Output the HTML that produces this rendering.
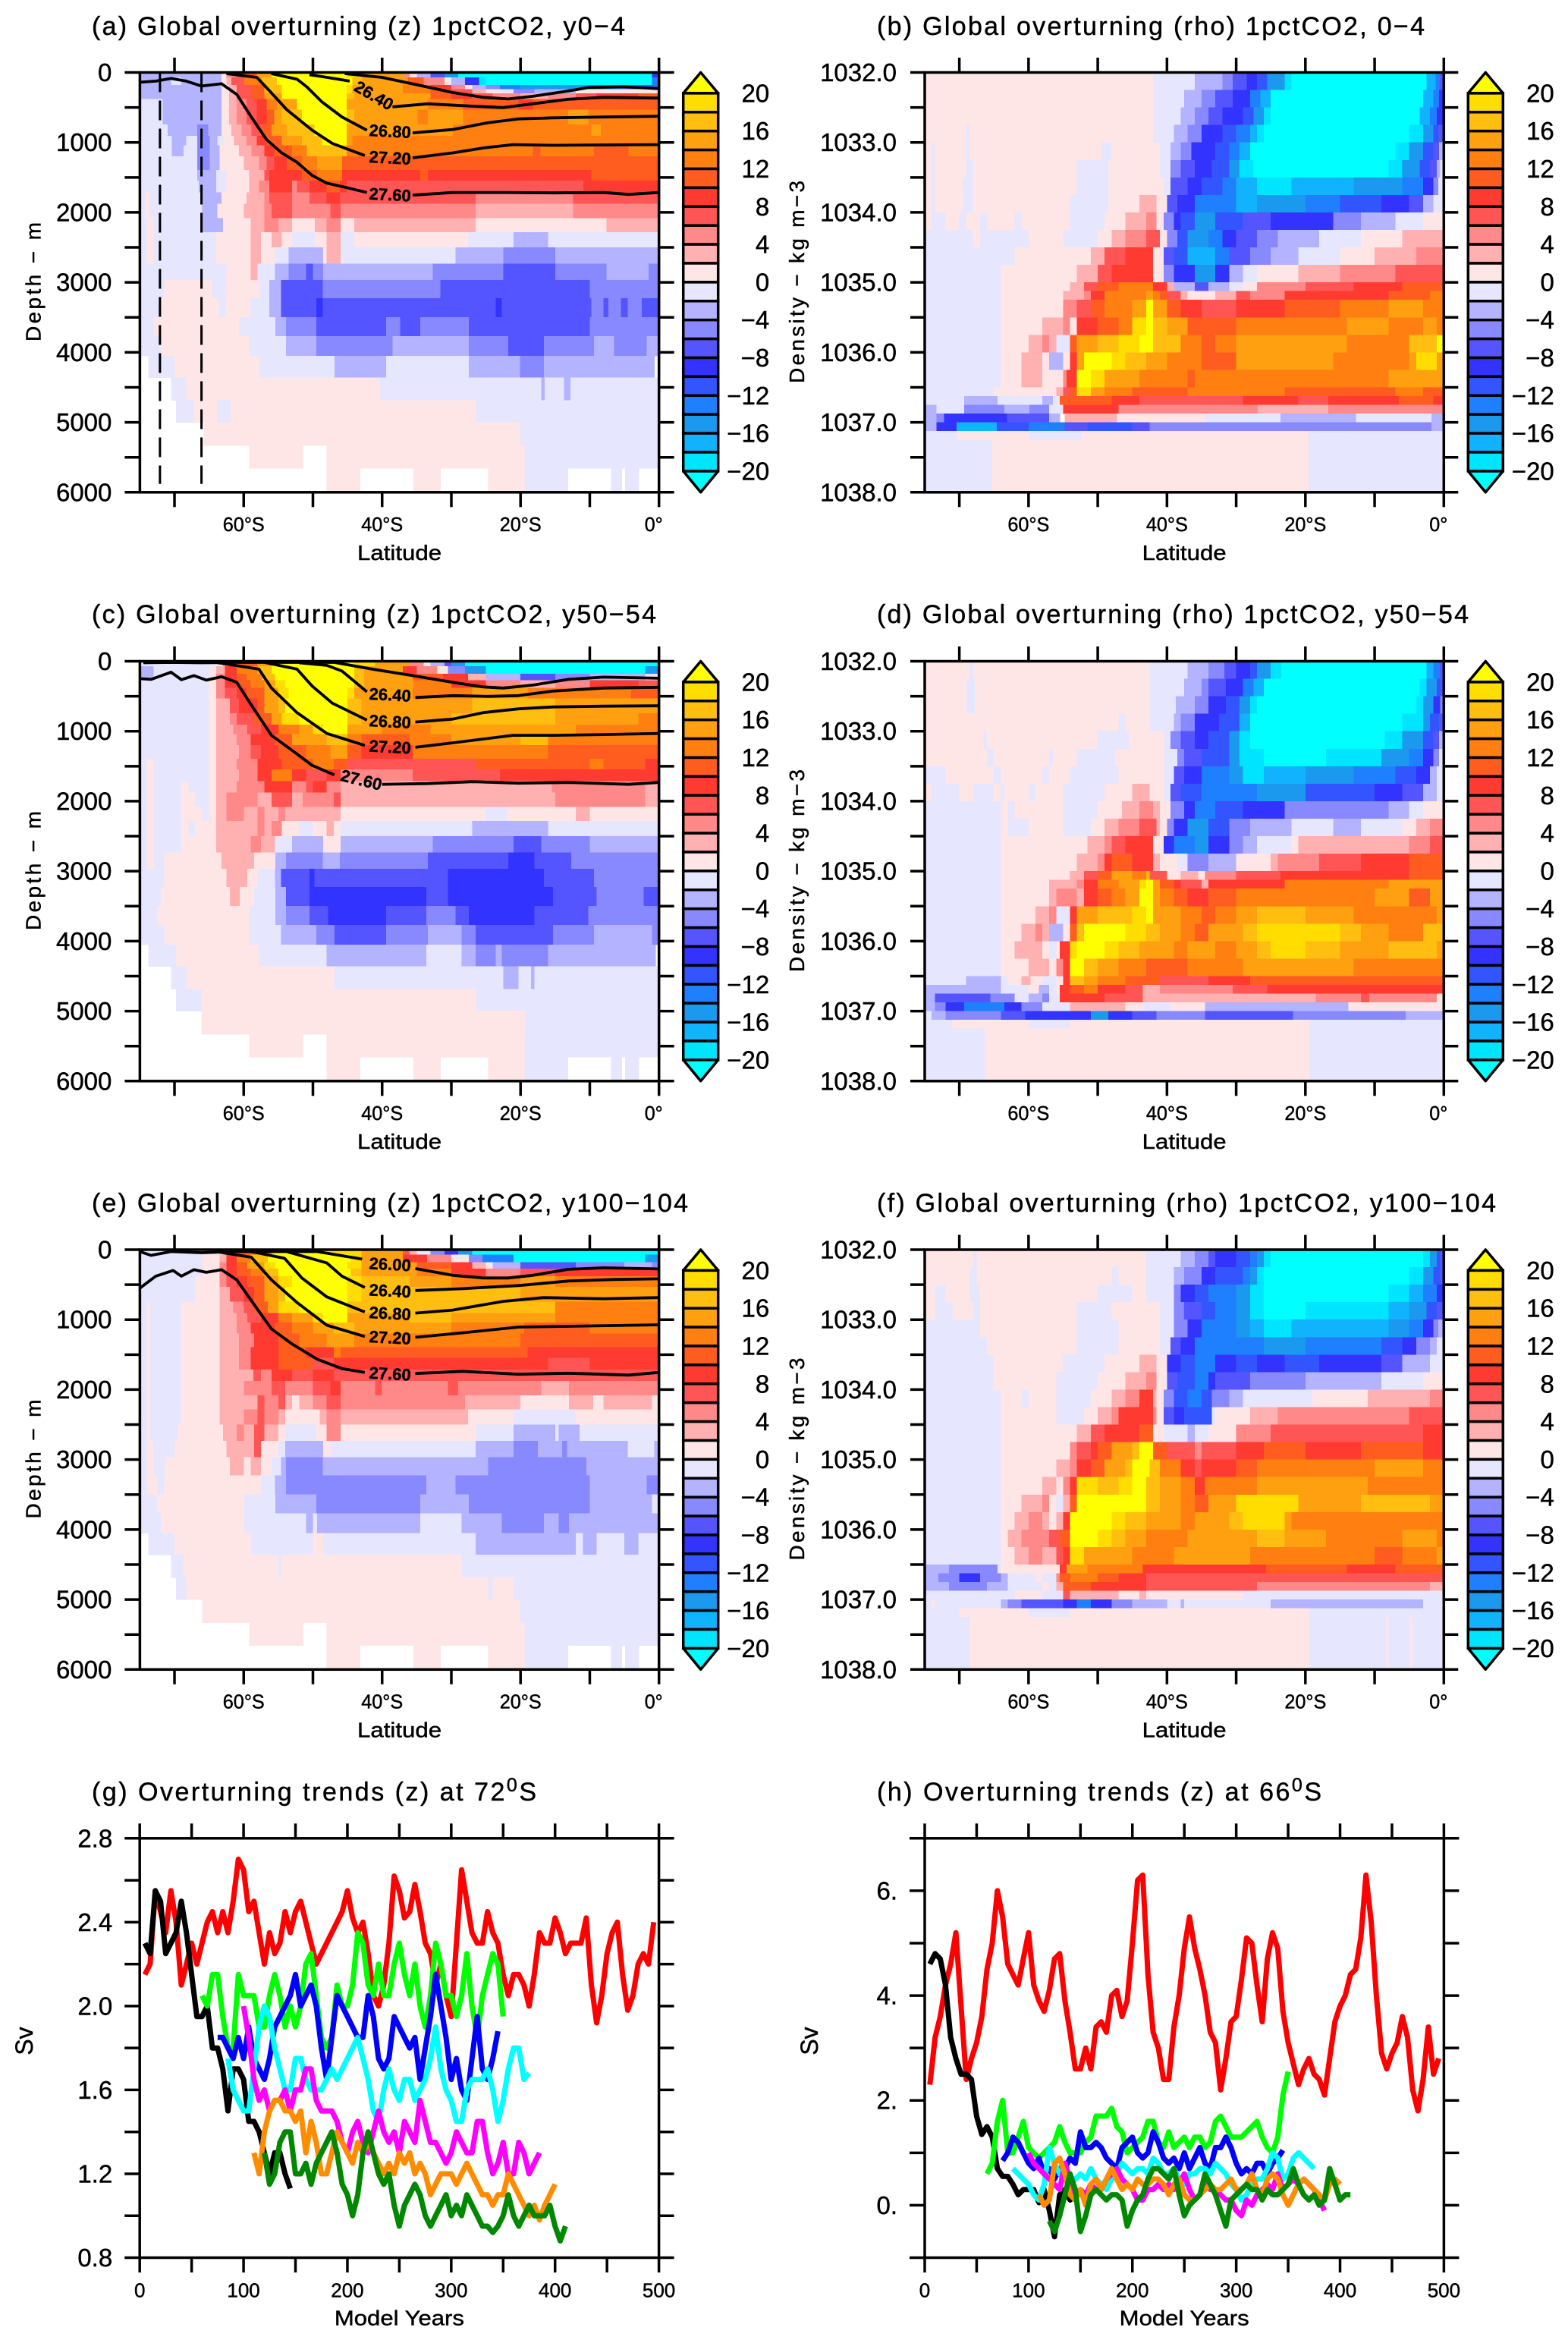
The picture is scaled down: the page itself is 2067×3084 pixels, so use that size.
<!DOCTYPE html>
<html lang="en">
<head>
<meta charset="utf-8">
<title>Overturning in 1pctCO2</title>
<style>
html,body{margin:0;padding:0;background:#fff}
svg{display:block}
text{font-family:"Liberation Sans",sans-serif;fill:#000;stroke:#000;stroke-width:.45px}
</style>
</head>
<body>
<svg id="figure" width="2067" height="3084" viewBox="0 0 2067 3084" xmlns="http://www.w3.org/2000/svg">
<rect width="2067" height="3084" fill="#fff"/>
<text x="121" y="46" font-size="34" textLength="703">(a) Global overturning (z) 1pctCO2, y0−4</text>
<text x="1156" y="46" font-size="34" textLength="722">(b) Global overturning (rho) 1pctCO2, 0−4</text>
<text x="121" y="821" font-size="34" textLength="744">(c) Global overturning (z) 1pctCO2, y50−54</text>
<text x="1156" y="821" font-size="34" textLength="780">(d) Global overturning (rho) 1pctCO2, y50−54</text>
<text x="121" y="1597" font-size="34" textLength="786">(e) Global overturning (z) 1pctCO2, y100−104</text>
<text x="1156" y="1597" font-size="34" textLength="816">(f) Global overturning (rho) 1pctCO2, y100−104</text>
<text x="121" y="2373" font-size="34" textLength="586">(g) Overturning trends (z) at 72<tspan dy="-12" font-size="25">0</tspan><tspan dy="12">S</tspan></text>
<text x="1156" y="2373" font-size="34" textLength="586">(h) Overturning trends (z) at 66<tspan dy="-12" font-size="25">0</tspan><tspan dy="12">S</tspan></text>
<defs>
<clipPath id="clip-a"><rect x="184.4" y="95.5" width="684.3" height="553.3"/></clipPath>
<clipPath id="clip-c"><rect x="184.4" y="871.5" width="684.3" height="553.3"/></clipPath>
<clipPath id="clip-e"><rect x="184.4" y="1647" width="684.3" height="553.3"/></clipPath>
</defs>
</svg>
<script>
/* ---------- colour scale ---------- */
const cbarLevels = [-20,-18,-16,-14,-12,-10,-8,-6,-4,-2,0,2,4,6,8,10,12,14,16,18,20];
const cbarColors = ['#00ffff','#00e5ff','#11b3ff','#1a99ee','#1f80ff','#3355ff','#3333ff','#5555ff','#8888ff','#b3b3ff','#e6e6ff','#ffe6e6','#ffb0b0','#ff8888','#ff5555','#ff3a30','#ff5c20','#ff7f10','#ffa010','#ffbe10','#ffdd00','#ffff00'];
const cbarLabels = [20,16,12,8,4,0,-4,-8,-12,-16,-20];
const latTicks = [-70,-60,-50,-40,-30,-20,-10,0];
const latLabels = [[-60,'60°S'],[-40,'40°S'],[-20,'20°S'],[0,'0°']];
const depthTicks = [0,500,1000,1500,2000,2500,3000,3500,4000,4500,5000,5500,6000];
const depthLabels = [0,1000,2000,3000,4000,5000,6000];
const rhoTicks = [1032,1032.5,1033,1033.5,1034,1034.5,1035,1035.5,1036,1036.5,1037,1037.5,1038];
const rhoLabels = [1032,1033,1034,1035,1036,1037,1038];

/* ---------- deep rows shared by z panels: [top, bottom, [lat, Sv, lat, Sv...]]  Sv 0 = no data ---------- */
const zBottom1 = [5331,5655,[-75,0,-59.2,1,-51.4,0,-48,1,-19.4,-1]];
const zBottom2 = [5655,6000,[-75,0,-48,1,-43.2,0,-35.5,1,-31.6,0,-24.7,1,-19.4,-1,-13.2,0,-6.9,-1,-5.4,0,-4.9,-1,-2.9,0]];

/* ---------- panel (a) ---------- */
const rowsA = [
[0,70,[-75,-3,-63.2,1,-62.5,5,-61,11,-58.1,15,-56,21,-45.1,19,-42.9,15,-37,5,-36,1,-35,-3,-33,-7,-31,-15,-29,-21,-1,-9]],
[70,180,[-75,-3,-70.5,-1,-69,-3,-63.2,1,-62.5,3,-61.8,7,-60,13,-57.4,17,-55.2,21,-44.3,17,-42.9,15,-36.3,11,-34,5,-31,1,-30,-3,-28,-9,-26,-19,-25,-21,-1,-13]],
[180,240,[-75,-3,-63.2,1,-62.1,3,-61,7,-59,11,-57,17,-54.5,21,-45.1,19,-44.3,15,-37,13,-33,9,-30,5,-28,1,-27,-3,-25,-5,-23,-13,-20,-15,-10,-13,-5,-7]],
[240,300,[-75,-3,-63.2,1,-62.1,3,-61,7,-59,11,-57,17,-54.5,21,-45.1,19,-44.3,15,-37,13,-33,11,-30,7,-27,3,-25,1,-23,-1,-21,-5,-18,-3,-12,1]],
[300,378,[-75,-3,-63.2,1,-62.1,3,-61,7,-59,11,-57,15,-54.5,21,-45.1,17,-44,15,-37,15,-33,11,-30,9,-27,7,-24,5,-20,3,-16,5,-12,7,-9,9,-3,11]],
[378,530,[-75,-1,-71.7,-3,-63.2,1,-62.1,3,-61,5,-59.6,7,-58.1,9,-56.7,13,-55.2,15,-52.3,21,-45.1,15,-36.3,15,-33.4,13,-28.3,11,-20.3,9,-18.2,11]],
[530,745,[-75,-1,-71.7,-3,-65,-3,-63.2,1,-62.1,3,-61,5,-59.6,7,-58.1,9,-56.7,11,-55.6,15,-54.5,17,-51.6,21,-45.1,17,-44,15,-34.9,13,-33.4,15,-28.3,13,-20.3,13,-13.1,15,-10.2,13]],
[745,906,[-75,-1,-71,-3,-66.7,-5,-65.1,-3,-63.2,1,-61.8,3,-60.3,5,-58.9,7,-57.4,11,-56,15,-53.8,17,-49.8,21,-45.1,15,-33.4,15,-29.8,13,-9.8,15,-8.4,13]],
[906,1040,[-75,-1,-70.4,-3,-68.3,-1,-66.7,-5,-64.9,-3,-63.8,-1,-62.8,1,-61.4,3,-59.6,5,-58.1,9,-56.7,11,-54.5,15,-51.6,17,-48.7,21,-45.1,15,-44.3,13]],
[1040,1200,[-75,-1,-70.4,-3,-68.7,-1,-66.7,-5,-64.9,-3,-63.5,1,-60.7,3,-58.9,5,-57,9,-55.6,11,-53,13,-50.9,17,-45.1,13,-18.2,11,-17.1,13,-9.4,11,-4.4,13]],
[1200,1392,[-75,-1,-66.7,-5,-64.9,-3,-63.5,1,-60,3,-57.8,5,-56.7,7,-55.6,9,-53.8,11,-51.6,13,-49.4,15,-45.8,11,-45.1,11,-33,11]],
[1392,1543,[-75,-1,-66.7,-3,-64,-1,-62.5,1,-59.2,3,-57,7,-56.3,9,-51.6,11,-49.4,13,-45.8,9,-34.5,11,-33.4,9,-9.8,11]],
[1543,1716,[-75,-1,-66.5,-3,-64,-1,-62.5,1,-59.2,3,-57.8,5,-56.3,9,-53,5,-52.3,7,-50.5,9,-48,11,-46.1,9,-45.1,7,-26.5,7,-10.9,9]],
[1716,1878,[-75,-1,-74.3,1,-73.6,-1,-66,-3,-63.2,1,-59.6,3,-57,5,-56.3,7,-53,5,-50.5,7,-48,9,-46.1,7,-26.5,5,-12.4,7]],
[1878,2083,[-75,-1,-74.3,1,-73.6,-1,-66,-3,-63.8,1,-60,3,-57,5,-56,7,-53,5,-47.5,7,-46,5,-26.5,3,-12.4,5]],
[2083,2283,[-75,-1,-74,1,-73,-1,-66,-3,-63,1,-59,3,-57,5,-55,3,-53,1,-49.7,3,-48,5,-46,1,-44,3,-26.5,1,-7.6,3]],
[2283,2498,[-75,-1,-74,1,-73,-1,-64,1,-59,3,-57.5,1,-56,3,-54.5,1,-53,-1,-49.7,1,-48,3,-46,-1,-44,1,-27.6,-1,-21,-3,-16,-1]],
[2498,2730,[-75,-1,-74,1,-73,-1,-64,1,-59,3,-57.5,1,-55.5,-1,-53.5,-3,-48.5,1,-48,3,-46,-1,-29.4,-3,-22.5,-5,-15,-3]],
[2730,2968,[-75,-1,-73,-1,-62.5,1,-59,3,-58,-1,-55.5,-3,-53.5,-5,-51,-7,-50,-5,-48.5,-3,-32.7,-5,-22.5,-7,-15,-5,-7.6,-3,-1.5,-5]],
[2968,3227,[-75,-1,-71.5,1,-64.6,-1,-62.5,1,-57.8,-1,-56.3,-3,-54.6,-7,-48.6,-5,-31.6,-7,-10,-5]],
[3227,3497,[-75,-1,-72,1,-63.6,-1,-62.6,1,-59,-1,-56.3,-3,-54.6,-7,-49.5,-9,-48.6,-7,-23.6,-9,-22.7,-7,-9.8,-5,-8,-7,-7.3,-5,-5.5,-7,-4.5,-5,-2.5,-7]],
[3497,3766,[-75,-1,-73,1,-60.7,-1,-55.4,-3,-53.9,-5,-49.5,-7,-39.4,-5,-37.4,-7,-34.5,-5,-27.5,-7,-10,-5]],
[3766,4052,[-75,-1,-72,1,-59.2,-1,-53.9,-3,-49.5,-5,-38.5,-3,-27.5,-5,-21.8,-7,-16.6,-5,-9.4,-3,-6.5,-5,-1.8,-3]],
[4052,4360,[-75,0,-73.8,-1,-70,1,-57.8,-1,-46.9,-3,-39.4,-1,-27.5,-3,-20.1,-5,-16.6,-3,-0.7,0]],
[4360,4684,[-75,0,-70.5,-1,-68.3,1,-40.3,-1,-17,-3,-16.5,-1,-13.7,-3,-12.8,-1]],
[4684,4997,[-75,0,-69.8,-1,-67.2,1,-63.8,-1,-61.9,1,-26.5,-1]],
[4997,5331,[-75,0,-65.8,1,-20.1,-1]],
zBottom1, zBottom2
];
const contoursA = [
[-45.4,16,-40,70,-34.9,178,-29.8,286,-25.4,356,-21.8,378,-18.2,340,-13.8,275,-10.2,216,-5.1,205,0,232],
[-50.5,32,-48.7,59,-44.7,124],
[-38.5,491,-33.4,448,-28.3,475,-22.5,502,-18.2,448,-13.1,383,-8,356,0,367],
[-56,16,-52.3,97,-50.9,205,-48.7,421,-45.8,637,-42.2,826],
[-35.6,863,-29.8,815,-24.7,718,-20.3,664,-15.3,648,-8,637,0,626],
[-62.5,16,-58.1,70,-56.3,259,-53.8,529,-50.1,826,-47.2,1014,-42.5,1187],
[-35.6,1220,-29.8,1149,-25.4,1079,-21.1,1031,-15.3,1041,-8,1036,0,1031],
[-75,140,-72.7,124,-70.5,86,-68.3,124,-66.1,194,-63.2,162,-61,313,-58.9,637,-56.7,961,-54.5,1149,-52.3,1284,-50.1,1473,-48,1581,-45.1,1646,-42.2,1716],
[-35.6,1754,-29.8,1716,-22.5,1716,-15.3,1721,-8,1716,-4.4,1743,0,1716]
];
const contourLabelsA = [['26.40',-41.6,313,30],['26.80',-38.9,836,3],['27.20',-38.9,1214,3],['27.60',-38.9,1743,3]];
const sectionLats = [-72.1,-66.1];

/* ---------- panel (c) ---------- */
const rowsC = [
[0,70,[-75,-1,-64,1,-63,5,-61,11,-58,15,-56,21,-44,19,-41,15,-36,5,-34,1,-33,-3,-31,-7,-30,-15,-28,-21]],
[70,180,[-75,-3,-73,-1,-65,1,-64,3,-62.7,9,-61,13,-58,17,-56,21,-44,17,-42.6,15,-37,9,-35,5,-32,1,-30.5,-5,-28,-15,-25,-21,-2,-15]],
[180,270,[-75,-3,-73,-1,-65,1,-64,5,-62.7,9,-61,11,-59.6,13,-57.4,17,-55.5,21,-44,17,-42.6,15,-35.6,11,-31.2,9,-27.6,3,-25,-3,-20,-7,-15,-5,-10,-3,-2,-1]],
[270,380,[-75,-1,-65,1,-64,5,-62.7,9,-61,11,-59,13,-57,15,-55.5,19,-54,21,-44,17,-42.6,15,-35.5,13,-30,9,-25,5,-20,3,-15,5,-10,9,-3,7]],
[380,530,[-75,-1,-65,1,-64,5,-62.7,7,-61,9,-59.6,11,-57,15,-55,19,-53.5,21,-45,19,-44,15,-35.6,13,-27,15,-19,13,-4,11]],
[530,745,[-75,-1,-65,1,-64,3,-62,7,-60.7,9,-58,11,-57,15,-55,17,-54,21,-45,17,-43,15,-27,17,-15,15]],
[745,906,[-75,-1,-65,1,-64,3,-62,5,-61,7,-58.5,11,-56,15,-54.5,19,-52,21,-45,17,-43,15,-30,17,-15,15,-3,13]],
[906,1040,[-75,-1,-65,1,-64,3,-61.5,5,-59.5,7,-57.5,9,-55,13,-52,15,-50,19,-48.5,21,-45,15,-40,13,-33,15,-12,13]],
[1040,1200,[-75,-1,-65,1,-64,3,-61,5,-59,9,-55.5,11,-53,15,-48,17,-45,13,-43,11,-36,13,-30,15,-20,17,-16,13]],
[1200,1392,[-75,-1,-65,1,-64,3,-60.7,5,-59,7,-57.5,9,-55,11,-51,13,-47.5,15,-45,11,-43,9,-35.6,13,-16,11]],
[1392,1543,[-75,-1,-74,1,-73,-1,-65,1,-64,3,-61,5,-58,9,-54.5,11,-50,13,-47,11,-45,7,-26.5,11,-10,13,-8,11,-2,9]],
[1543,1716,[-75,-1,-74,1,-73,-1,-65,1,-64,3,-60.7,5,-58,9,-56,13,-53,9,-51,7,-48,9,-46,5,-35.6,7,-23,9]],
[1716,1878,[-75,-1,-74,1,-73,-1,-69,1,-68,-1,-65,1,-64,3,-61,5,-57,9,-53,5,-51,7,-50,9,-48,5,-46,3,-15.5,5,-2,3]],
[1878,2083,[-75,-1,-74,1,-73,-1,-69,1,-67,-1,-65,1,-64,3,-62.5,5,-58,3,-56,7,-53,3,-51.5,5,-47,7,-46,3,-15,5,-2,3]],
[2083,2283,[-75,-1,-74,1,-73,-1,-69,1,-66,-1,-65,1,-64,3,-62.5,5,-60,3,-58,5,-57,3,-55,5,-54,3,-46,1,-25,-1,-22,1,-12,3,-10,1]],
[2283,2498,[-75,-1,-74,1,-73,-1,-69,1,-68,-1,-67,1,-64,3,-58,5,-57,3,-56,5,-54.5,1,-52,-1,-50,1,-48,3,-47,1,-46,-1,-27,-3,-16,-1]],
[2498,2730,[-75,-1,-74,1,-73,-1,-69,1,-64,3,-59,5,-57.5,3,-55.5,-1,-53,-3,-48.5,1,-46,-3,-32.7,-5,-21,-7,-17,-5,-10,-3]],
[2730,2968,[-75,-1,-74,1,-73,-1,-71.5,1,-63.2,3,-58.5,1,-55.4,-3,-53.9,-5,-48.6,-3,-46.1,-5,-33.4,-7,-21.8,-9,-18,-7,-12.7,-5]],
[2968,3227,[-75,-1,-71.5,1,-62.5,3,-59.5,1,-58,-1,-55.5,-3,-54.6,-7,-50.5,-9,-49.8,-7,-30.5,-9,-16.6,-7,-9.4,-5]],
[3227,3497,[-75,-1,-72,1,-62,3,-60.6,1,-58.5,-1,-55.4,-3,-53.9,-7,-50.5,-9,-33.6,-7,-30.5,-9,-15.3,-7,-9,-5,-2.2,-7]],
[3497,3766,[-75,-1,-72.5,1,-59.2,-1,-55.4,-3,-53.9,-5,-50.5,-7,-47.8,-9,-39.4,-7,-33.6,-5,-29.4,-7,-27.5,-9,-18,-7,-10.2,-5]],
[3766,4052,[-75,-1,-71.5,1,-59.2,-1,-54.6,-3,-49.5,-5,-46.9,-7,-39.4,-5,-33.4,-3,-28.5,-5,-26.5,-7,-15.3,-5,-9.4,-3,-1,-5]],
[4052,4360,[-75,0,-73.8,-1,-69.8,1,-57.8,-1,-48,-3,-33.6,-1,-28.5,-3,-26.5,-5,-23.6,-3,-22.7,-5,-16,-3,-0.5,0]],
[4360,4684,[-75,0,-70.5,-1,-68.3,1,-46.9,-1,-22.5,-3,-20.3,-1,-18.5,-3,-18,-1]],
[4684,4997,[-75,0,-69.8,-1,-66.1,1,-26.5,-1]],
[4997,5331,[-75,0,-66.1,1,-19.3,-1]],
zBottom1, zBottom2
];
const contoursC = [
[-74.5,22,-70.5,16,-66.1,22,-61,16,-46.9,16,-41.4,113,-35.6,205,-29.8,302,-25.4,367,-22.5,383,-18.2,340,-13.1,259,-8,227,0,243],
[-52,22,-48,59,-45.8,140,-42.2,437],
[-35.2,518,-29.8,491,-24.7,502,-20.3,491,-15.3,426,-8,383,0,372],
[-57,16,-52.3,113,-50.1,356,-47.2,599,-42.2,842],
[-35.2,869,-29.8,826,-25.4,734,-20.3,680,-15.3,653,-8,642,0,637],
[-64,16,-57.8,113,-56,383,-52.3,734,-48,1031,-42.5,1203],
[-35.2,1230,-29.8,1166,-21.1,1058,-15.3,1058,-8,1047,0,1031],
[-75,248,-73.4,259,-70.5,156,-69,264,-67.2,205,-65.4,270,-63.2,221,-61,302,-58.9,626,-56,1058,-53,1274,-50.1,1489,-46.9,1624],
[-40,1759,-33.4,1748,-26.9,1721,-20.3,1743,-13.1,1732,-4.4,1759,0,1732]
];
const contourLabelsC = [['26.40',-38.9,475,3],['26.80',-38.9,858,3],['27.20',-38.9,1220,3],['27.60',-43.2,1689,14]];

/* ---------- panel (e) ---------- */
const rowsE = [
[0,70,[-75,-1,-64,1,-63,5,-61,11,-58,15,-56,21,-48,19,-43,15,-37,7,-36,3,-35,-1,-33,-5,-31,-9,-29,-15,-27,-21]],
[70,180,[-75,-1,-66,1,-63.5,3,-62.5,9,-61,13,-59,17,-56.5,21,-44.5,19,-43,15,-37,9,-33.5,5,-30,1,-27.5,-5,-25.5,-13,-21,-21,-2,-15]],
[180,270,[-75,-1,-66,1,-63.5,5,-62.5,9,-61,11,-59.5,15,-57,19,-55.5,21,-45,19,-43,15,-35,11,-30,9,-27,3,-25,1,-24,-3,-20,-7,-12,-5,-5,-3,-1,-5]],
[270,380,[-75,-1,-66,1,-63.5,5,-62.5,9,-61,11,-59,13,-57,17,-55,21,-44.5,17,-43,15,-35,13,-30,9,-25,5,-20,7,-15,9]],
[380,530,[-75,-1,-67,1,-63.5,5,-62.5,7,-61,9,-59.5,11,-57,15,-55,19,-53,21,-45,19,-43,17,-36,15,-30,13,-20,15,-15,13]],
[530,745,[-75,-1,-67,1,-63.5,3,-62,7,-60,9,-58.5,11,-57,15,-55,17,-54,21,-45,19,-43,17,-20,15]],
[745,906,[-75,-1,-74,1,-73.5,-1,-69,1,-63.5,3,-61.5,5,-60,7,-58.5,11,-56.5,15,-55,19,-52,21,-45,17,-15,13]],
[906,1040,[-75,-1,-74,1,-73.5,-1,-69,1,-63.5,3,-61,5,-59.5,7,-57.5,9,-55,13,-53,15,-50,19,-48.5,21,-45,15,-36,17,-30,15,-15,13]],
[1040,1200,[-75,-1,-74,1,-73.5,-1,-69,1,-63.5,3,-61,5,-59,9,-55.5,11,-53,13,-50,15,-47,17,-44,15,-30,13,-19.5,11,-10,13]],
[1200,1392,[-75,-1,-74,1,-73.5,-1,-69,1,-63.5,3,-60.7,5,-58.5,9,-55,11,-52,13,-48,15,-44,13,-20,11]],
[1392,1543,[-75,-1,-74,1,-73.5,-1,-69,1,-63.5,3,-60.7,5,-59,9,-55,11,-51,9,-47,13,-46,11,-19,9,-5,9]],
[1543,1716,[-75,-1,-74,1,-73.5,-1,-69,1,-63.5,3,-60.7,5,-59,9,-55,11,-50,7,-47,9,-16,7,-10,9]],
[1716,1878,[-75,-1,-74,1,-73.5,-1,-69,1,-63.5,3,-58.6,7,-57.5,5,-56,9,-53,7,-50,9,-47,7]],
[1878,2083,[-75,-1,-74,1,-73.5,-1,-69,1,-63.5,3,-60,5,-56,7,-54,5,-50,7,-47.5,9,-46,5,-41,7,-40,5,-30.5,7,-29,5,-17,3,-13,5]],
[2083,2283,[-75,-1,-74,1,-73.5,-1,-69,1,-63.5,3,-58,7,-57,5,-55,7,-54,3,-53,1,-52,3,-50,5,-48,7,-46,5,-28,3,-20,1,-13,3,-9.5,1,-8,3,-1,1]],
[2283,2498,[-75,-1,-74,1,-73.5,-1,-69,1,-63.5,3,-60,5,-58,7,-57,5,-55,3,-54,1,-49,3,-48,5,-46,3,-27.6,1,-21,-1,-12,1]],
[2498,2730,[-75,-1,-74,1,-73.5,-1,-69.5,1,-63,3,-61,5,-60,3,-58.5,7,-57,3,-55,1,-54,-1,-49.5,1,-48,5,-46,1,-26.5,-1,-21,-3,-15,-1,-14.5,-3,-11.5,-1]],
[2730,2968,[-75,-1,-74,1,-73,-1,-70,1,-62.5,3,-58.5,7,-57.5,1,-55,-1,-54,-3,-48.5,1,-47.5,-1,-26.5,-3,-21,-5,-17.5,-3,-14,-5,-13.3,-3,-4.5,-1,-0.7,-3]],
[2968,3227,[-75,-1,-74,1,-73,-1,-71.3,1,-62,3,-60,1,-59,3,-57.5,1,-56,-1,-54.6,-3,-53.9,-5,-48.6,-3,-24.7,-5,-10.5,-3]],
[3227,3497,[-75,-1,-74,1,-72.5,-1,-71.5,1,-57.5,-1,-55.5,-3,-53.9,-5,-33.6,-3,-29.4,-5,-10,-3,-1.8,-5]],
[3497,3766,[-75,-1,-72.5,1,-60,-1,-55.4,-3,-49.5,-5,-34.5,-3,-27.5,-5,-10,-3,-1,-1]],
[3766,4052,[-75,-1,-72,1,-60,-1,-51,-3,-50,-1,-49.4,-3,-34.5,-1,-28.5,-3,-22.7,-5,-16.6,-3,-14.5,-5,-13,-3]],
[4052,4360,[-75,0,-73.8,-1,-70,1,-59,-1,-50,1,-48.5,-1,-26.5,-3,-12,-1,-11,-3,-9,-1,-5,-3,-3,-1]],
[4360,4684,[-75,0,-70.5,-1,-68.7,1,-55,-1,-54.5,1,-28.5,-1]],
[4684,4997,[-75,0,-69.8,-1,-68.3,1,-24.7,-1,-24,1,-21,-1]],
[4997,5331,[-75,0,-66,1,-20.1,-1]],
zBottom1, zBottom2
];
const contoursE = [
[-75,27,-73.4,81,-70.5,27,-66.1,43,-61,27,-49.4,27,-42.9,135],
[-35.2,270,-29.8,367,-25.4,405,-21.8,405,-18.2,367,-13.1,281,-8,259,0,275],
[-53.8,27,-48,189,-45.8,378,-42.5,540],
[-35.2,583,-28.3,556,-20.3,513,-13.1,448,-6.5,426,0,416],
[-58.9,27,-54.1,124,-51.6,405,-48,675,-42.5,890],
[-35.2,907,-29.8,863,-22.5,739,-16.7,685,-8,702,0,685],
[-64,27,-58.9,108,-56,432,-52.3,755,-48,1079,-42.5,1241],
[-35.2,1252,-28.3,1187,-20.3,1106,-13.1,1095,0,1074],
[-75,550,-72.7,378,-70.2,297,-69,378,-67.2,286,-65.4,324,-63.2,286,-61,432,-58.9,728,-56,1133,-53,1349,-49.4,1565,-45.8,1700,-42.5,1754],
[-35.2,1770,-28.3,1738,-20.3,1781,-13.1,1765,-4.4,1792,0,1754]
];
const contourLabelsE = [['26.00',-38.9,205,3],['26.40',-38.9,583,3],['26.80',-38.9,907,3],['27.20',-38.9,1252,3],['27.60',-38.9,1770,3]];

/* ---------- panel (b) ---------- */
const rowsB = [
[1032,1032.25,[-75,1,-42,-1,-36,-3,-32,-5,-30.5,-7,-28.5,-9,-27,-11,-25.5,-15,-23,-19,-22,-21,-2.5,-17,-1.2,-13,-0.6,-7]],
[1032.25,1032.5,[-75,1,-42,-1,-37.5,-3,-35,-5,-33,-7,-30.5,-9,-28,-13,-26.5,-17,-25,-21,-3,-17,-1.5,-13,-0.7,-9]],
[1032.5,1032.75,[-75,1,-42,-1,-38,-3,-36,-5,-34,-7,-32,-9,-29,-11,-27.5,-15,-26,-19,-25,-21,-3.5,-17,-2,-13,-1,-9]],
[1032.75,1033,[-75,1,-69,-1,-68.5,1,-42,-1,-39,-3,-37,-5,-35,-9,-32,-11,-30,-13,-28,-17,-27,-19,-26,-21,-5,-19,-3,-15,-1.5,-11,-0.8,-7]],
[1033,1033.25,[-75,1,-74,-1,-73.5,1,-69,-1,-68.5,1,-49.5,-1,-48,1,-41,-1,-39.5,-3,-38,-5,-36.5,-9,-33,-11,-31,-13,-29.5,-17,-28,-21,-7,-19,-5,-15,-3,-11,-1.5,-7,-0.7,-3]],
[1033.25,1033.5,[-75,1,-74,-1,-73.5,1,-69,-1,-68,1,-53,-1,-48.5,1,-41,-1,-39.5,-5,-38,-7,-36,-9,-33.5,-11,-31,-15,-29.5,-19,-27.5,-21,-8,-19,-6,-15,-3.5,-11,-2,-7,-1,-3,-0.5,-1]],
[1033.5,1033.75,[-75,1,-74,-1,-73.5,1,-69.5,-1,-68,1,-53,-1,-48.5,1,-40.5,-1,-39.5,-7,-37,-9,-35,-11,-32,-13,-30,-17,-27,-19,-22,-17,-13,-15,-6,-13,-3,-9,-1.5,-5,-0.8,-1]],
[1033.75,1034,[-75,1,-74,-1,-73.5,1,-69.5,-1,-68,1,-54,-1,-48.5,1,-44,3,-41.5,1,-40,-7,-38.5,-9,-36,-13,-30,-17,-27,-15,-20,-13,-15,-11,-9,-9,-5,-7,-3,-3,-1.5,-1]],
[1034,1034.25,[-75,1,-74,-1,-72,1,-70,-1,-69,1,-67,-1,-66,1,-62,-1,-61,1,-54,-1,-49,1,-46,3,-43,5,-41.5,1,-40.5,-5,-39,-9,-38,-11,-36,-15,-33,-11,-29,-7,-25,-9,-16,-5,-12,-3,-7,-1,-3,1]],
[1034.25,1034.5,[-75,-1,-68,1,-67,-1,-60,1,-55,-1,-50,1,-48,3,-46,5,-43,7,-41,1,-40,-5,-38.5,-11,-37,-15,-34,-13,-32,-9,-30,-7,-27,-5,-24,-3,-18,-1,-12,1,-6,3]],
[1034.5,1034.75,[-75,-1,-62,1,-51,3,-49,7,-46,9,-42,1,-40.5,-7,-39,-11,-37,-17,-33,-13,-31,-7,-28,-5,-25,-3,-21,-1,-15,1,-10,3,-4,5]],
[1034.75,1035,[-75,-1,-64,1,-53,3,-50,7,-48,9,-42,1,-40.5,-5,-39,-9,-36,-15,-33,-9,-31,-3,-29,-1,-27,1,-21,3,-15,5,-7,7]],
[1035,1035.125,[-75,-1,-64,1,-54,3,-52,7,-50,11,-47,13,-42,9,-40,3,-39,-3,-36,-7,-34,-3,-31,-1,-29,1,-27,5,-20,7,-13,9,-6,11]],
[1035.125,1035.25,[-75,-1,-64,1,-55,3,-52,5,-51,9,-49,13,-43,15,-42,13,-41,11,-40,7,-38,3,-37,1,-33,3,-30,7,-28,5,-23,9,-8,11,-2,13]],
[1035.25,1035.5,[-75,-1,-64,1,-55,5,-53,7,-51,11,-49,13,-45,15,-43,21,-42,15,-40,11,-38,9,-35,7,-30,9,-23,11,-15,13,-8,15,-3,13]],
[1035.5,1035.75,[-75,-1,-64,1,-58,3,-55,5,-54,1,-53,9,-50,11,-47,13,-45,19,-43,21,-42,17,-40,15,-37,11,-30,13,-14,15,-8,13,-3,15,-1,13]],
[1035.75,1036,[-75,-1,-64,1,-60,3,-58,5,-57,3,-56,-1,-54,11,-53,15,-50,17,-47,19,-44,21,-42,17,-38,13,-35,11,-33,13,-30,15,-14,13,-5,17,-1,21]],
[1036,1036.25,[-75,-1,-64,1,-61,3,-58,1,-57,-3,-55,1,-54,9,-53,15,-52,21,-48,19,-46,17,-43,15,-40,13,-35,11,-30,15,-16,13,-5,15,-4,19,-1,15]],
[1036.25,1036.5,[-75,-1,-64,1,-61,3,-58,1,-55,5,-54.5,9,-53,21,-51,19,-49,15,-44,13,-37,11,-36,13,-8,15]],
[1036.5,1036.625,[-75,-1,-65,1,-56,3,-55,7,-54,11,-53,19,-51,15,-49,13,-45,11,-37,13,-23,11,-7,13,-3,11]],
[1036.625,1036.75,[-75,-1,-69.3,-3,-64.5,-1,-58,-3,-56.5,-1,-55.5,11,-48,9,-44,7,-29,9,-21,7,-16.7,9,-6.5,11,-1.5,9]],
[1036.75,1036.875,[-75,-3,-73.3,-1,-69.3,-5,-63.5,-3,-59.9,-5,-57,-1,-55,9,-47,5,-26.9,3,-16.7,5]],
[1036.875,1037,[-75,-3,-73.3,-5,-72.2,-9,-63.1,-7,-57,-3,-55.5,0,-54.8,3,-47.2,1,-34.5,-1,-23.6,-3,-12.7,-1,-1.8,-3]],
[1037,1037.125,[-75,-3,-73.3,-9,-70.4,-17,-64.6,-11,-60,-13,-54.8,-7,-51.5,-11,-45,-7,-42.5,-5,-1.8,-3]],
[1037.125,1037.25,[-75,-1,-70.4,1,-60,-1,-52.3,1,-19.6,-1]],
[1037.25,1038,[-75,-1,-65.3,1,-19.6,-1]]
];

/* ---------- panel (d) ---------- */
const rowsD = [
[1032,1032.25,[-75,1,-68.6,-1,-68,1,-42.5,-1,-37,-3,-34,-5,-31.7,-7,-30,-9,-28,-11,-27,-15,-25,-19,-23.5,-21,-2.5,-17,-1.5,-13,-0.6,-7]],
[1032.25,1032.5,[-75,1,-69,-1,-67.7,1,-42.5,-1,-37.5,-3,-35,-5,-34,-7,-31.5,-9,-29,-13,-27.5,-17,-26,-21,-3.5,-19,-2.5,-15,-1,-11,-0.4,-7]],
[1032.5,1032.75,[-75,1,-69,-1,-67.7,1,-42.5,-1,-38.7,-3,-36,-5,-34,-9,-31.5,-11,-29.5,-15,-28,-19,-27,-21,-4,-19,-3,-15,-1.5,-9,-0.5,-5]],
[1032.75,1033,[-75,1,-47,-1,-46,1,-42.5,-1,-39,-3,-38,-5,-36,-9,-32.5,-11,-29.5,-17,-28,-21,-6,-19,-3,-15,-2,-11,-0.7,-7]],
[1033,1033.25,[-75,1,-66.5,-1,-66,1,-50,-1,-45.5,1,-40.5,-1,-39.5,-5,-38,-7,-36,-9,-34,-11,-31,-15,-29.5,-19,-28,-21,-8.5,-19,-6,-15,-3,-11,-1.5,-7,-0.7,-3]],
[1033.25,1033.5,[-75,1,-66,-1,-65,1,-57,-1,-56.5,1,-53,-1,-47.5,1,-40.5,-1,-38.5,-5,-37.5,-7,-35,-11,-31,-15,-29.5,-19,-26,-21,-17,-19,-9,-15,-5,-13,-3,-9,-1.5,-5,-0.7,-1]],
[1033.5,1033.75,[-75,-1,-72,1,-65,-1,-64,1,-58,-1,-57,1,-54,-1,-47,1,-40.5,-1,-39,-7,-37.5,-9,-35,-13,-31,-15,-29,-19,-26,-17,-20,-15,-13,-13,-7,-11,-4,-9,-2,-3,-1,-1]],
[1033.75,1034,[-75,1,-74,-1,-70,1,-68,-1,-65,1,-64,-1,-63.5,1,-60,-1,-59,1,-55,-1,-49,1,-45,3,-42.5,1,-40.5,-1,-39.5,-7,-38,-11,-35,-13,-27,-15,-20,-11,-10,-9,-6,-7,-3,-3,-1,-1]],
[1034,1034.25,[-75,-1,-64,1,-63,-1,-62,1,-55,-1,-50,1,-46.5,3,-44,5,-42,3,-41,1,-39.5,-5,-37.5,-9,-36,-13,-33,-11,-29,-9,-23,-5,-8,-3,-5,-1,-3,1]],
[1034.25,1034.5,[-75,-1,-64,1,-63,-1,-60,1,-55,-1,-51,1,-49,3,-47,5,-44,7,-41.5,3,-41,1,-40,-5,-39,-9,-37,-15,-34,-11,-31,-5,-28,-3,-22,-1,-16,-3,-12,-1,-6,1,-4,3,-2,5]],
[1034.5,1034.75,[-75,-1,-64,1,-51.5,3,-49,5,-48,7,-46,9,-42,1,-40.5,-9,-39,-13,-36,-15,-34,-9,-31,-5,-29,-3,-27,-1,-22,1,-21,3,-5,5,-2,7]],
[1034.75,1035,[-75,-1,-64,1,-53,3,-50,5,-49,9,-48,11,-45,9,-42,3,-41,1,-38.5,-1,-37,-5,-34,-3,-30,1,-25,3,-24,5,-18,7,-12,9,-5,11]],
[1035,1035.125,[-75,-1,-64,1,-54,3,-52,7,-50,11,-48,15,-45,13,-43,17,-42.5,7,-40,1,-38,3,-35.5,1,-34.5,5,-30,7,-23.6,9,-5,11]],
[1035.125,1035.25,[-75,-1,-64,1,-57,3,-53,5,-52,9,-50,13,-47,15,-44,19,-43,21,-42,15,-41,11,-39,9,-38,7,-35,3,-34,9,-23,13,-8,15]],
[1035.25,1035.5,[-75,-1,-64,1,-57,3,-56,5,-53,3,-52,9,-50,11,-48,13,-46,15,-44,21,-42,15,-41,13,-39,11,-37,9,-34,11,-30,13,-10,15,-5,11,-2,15]],
[1035.5,1035.75,[-75,-1,-64,1,-59,3,-57,5,-56,-1,-54,9,-53,15,-50,17,-45,19,-43,21,-42,15,-38,13,-35,11,-33,13,-30,15,-27,17,-20,15,-13,13,-1,15]],
[1035.75,1036,[-75,-1,-64,1,-61,3,-59,5,-58,3,-57,-3,-55,1,-54,11,-53,17,-52,21,-46,19,-43,17,-41,15,-38,13,-36,11,-34,15,-29,17,-27,19,-15,17,-12,15,-8,13,-3,17]],
[1036,1036.25,[-75,-1,-64,1,-62,3,-58,1,-57,-1,-56,1,-55.5,9,-54,19,-53,21,-49,19,-47,17,-44,15,-39,13,-37,15,-33,13,-30,15,-27,17,-25,19,-20,17,-15,15,-8,17,-1,15]],
[1036.25,1036.5,[-75,-1,-64,1,-60,3,-57,1,-56,5,-55,9,-54,21,-52,17,-50,15,-47,13,-43,11,-37,13,-29,15,-13,13]],
[1036.5,1036.625,[-75,-1,-69,-3,-64,-1,-63,1,-61,3,-59.7,1,-58,-1,-56,1,-55,9,-54,17,-52,15,-50,13,-46,11,-41,7,-34,9,-28,11]],
[1036.625,1036.75,[-75,-3,-64,-1,-60,1,-58.5,-3,-57,-1,-56,1,-55.5,9,-54,11,-52,13,-50,9,-46,7,-43.5,3,-41,5,-30.5,7,-25.5,9]],
[1036.75,1036.875,[-75,-3,-73.5,-7,-65.5,-5,-62,-1,-60,-3,-58,-5,-57,-1,-55.5,9,-49,7,-43.5,3,-18.5,5,-12,7,-10.8,5,-1,1]],
[1036.875,1037,[-75,-3,-73.5,-5,-72,-9,-69.3,-13,-63.5,-9,-61,-5,-58,-1,-54,3,-46,1,-43.5,-1,-39.5,1,-34.5,-3,-13.8,1]],
[1037,1037.125,[-75,-1,-74,-3,-72,-5,-64,-7,-60.5,-9,-51,-15,-48.5,-9,-45,-7,-41.5,-5,-34.5,-7,-21.8,-5,-5.5,-3]],
[1037.125,1037.25,[-75,-1,-71,1,-60,-1,-54,1,-19.5,-1]],
[1037.25,1038,[-75,-1,-66.3,1,-19.5,-1]]
];

/* ---------- panel (f) ---------- */
const rowsF = [
[1032,1032.25,[-75,1,-68,-1,-67.5,1,-43,-1,-38,-3,-36,-5,-34,-7,-33,-9,-30,-11,-28,-13,-27,-15,-26,-19,-25,-21,-3,-19,-2,-15,-1,-11,-0.5,-7]],
[1032.25,1032.5,[-75,1,-68.5,-1,-67.5,1,-48,-1,-47,1,-43,-1,-39,-3,-37.5,-5,-35,-9,-33,-11,-29,-13,-28,-15,-27,-19,-26,-21,-5,-19,-3,-15,-1.5,-11,-0.5,-7]],
[1032.5,1032.75,[-75,1,-73.5,-1,-72,1,-68.5,-1,-67,1,-50,-1,-45,1,-43,-1,-39,-5,-38,-9,-36,-11,-34,-13,-30,-15,-28,-19,-26,-21,-8,-19,-5,-17,-3,-13,-1,-9]],
[1032.75,1033,[-75,1,-73.5,-1,-71,1,-68,-1,-67,1,-53,-1,-48,1,-41,-1,-39,-5,-37.5,-7,-35,-11,-33,-13,-30,-15,-28,-19,-26,-21,-20,-19,-8,-17,-5,-15,-2.5,-11,-1,-7]],
[1033,1033.25,[-75,-1,-67,1,-53,-1,-47,1,-41,-1,-39,-5,-37,-9,-35,-13,-30,-15,-28,-17,-26,-19,-22,-17,-8,-15,-5,-13,-3,-9,-1.5,-5,-0.8,-3]],
[1033.25,1033.5,[-75,-1,-66,1,-53,-1,-47,1,-41,-1,-39.5,-7,-38,-9,-36,-13,-26,-15,-20,-13,-9,-11,-6,-9,-4,-5,-2,-3,-1,-1]],
[1033.5,1033.75,[-75,-1,-65,1,-55,-1,-49,1,-44,3,-41.5,1,-40,-9,-38,-11,-36,-13,-33,-9,-30,-11,-27,-9,-23,-11,-18,-9,-9,-7,-6,-3,-2,-1]],
[1033.75,1034,[-75,-1,-65,1,-56,-1,-50,1,-46,3,-43,5,-41.5,1,-40,-7,-38.5,-11,-36,-13,-34,-9,-33,-7,-28,-5,-20,-3,-9,-1,-3,1]],
[1034,1034.25,[-75,-1,-64,1,-61,-1,-60,1,-56,-1,-51,1,-48,3,-46,5,-44,9,-42,3,-41.5,1,-40.5,-5,-39,-11,-37,-13,-35,-11,-33.5,-5,-31,-3,-29,-1,-19,1,-11,3,-2,5]],
[1034.25,1034.5,[-75,-1,-64,1,-56,-1,-52,1,-50,3,-48,5,-47,9,-42,5,-41.5,1,-40.5,-7,-39,-9,-37.5,-11,-33.5,-1,-33,1,-28,3,-24,5,-5,7]],
[1034.5,1034.75,[-75,-1,-64,1,-53,3,-51,7,-49,9,-44,11,-42,1,-40.5,-1,-37,-3,-36,-1,-34,1,-30,5,-25,7,-3,9]],
[1034.75,1035,[-75,-1,-64,1,-54,5,-53,7,-51,9,-50,11,-48,15,-45,17,-44,21,-42,11,-40,7,-36,5,-35,7,-30,9,-26,11,-20,9,-12,11,-3,9]],
[1035,1035.25,[-75,-1,-64,1,-56,3,-54,5,-53,9,-51,11,-49,15,-46,17,-45,21,-42.5,17,-41,13,-38,9,-36,7,-35,9,-30,11,-27,13,-10,15,-3,13]],
[1035.25,1035.5,[-75,-1,-64,1,-58,3,-56,1,-55,5,-54,9,-53,19,-50,17,-47,19,-45,21,-43,17,-41,15,-38,13,-36,9,-34.5,13,-27,15,-11,13]],
[1035.5,1035.75,[-75,-1,-64,1,-61,3,-58,5,-57,1,-56,-1,-55,3,-54,11,-53,21,-43,17,-41,15,-38,13,-36,11,-34,15,-30,19,-21,15,-12,17,-2,15]],
[1035.75,1036,[-75,-1,-64,1,-62,3,-60,5,-58,3,-57,1,-56,3,-55,9,-54,21,-48,19,-46,17,-43,15,-38,13,-36,15,-31,17,-29,19,-23,15,-22,13]],
[1036,1036.25,[-75,-1,-64,1,-63,3,-61,5,-57,7,-55.5,11,-54,21,-50,19,-48,17,-46,15,-43,13,-37,15,-27,17,-23,15,-17,13,-6,15,-1,13]],
[1036.25,1036.5,[-75,-1,-64,1,-62,3,-60,5,-58,3,-56,7,-55,9,-54,19,-52,15,-45,13,-39,15,-28,13,-10,11,-6,13,-1,15]],
[1036.5,1036.625,[-75,-3,-71.5,-5,-64.5,-1,-64,1,-55.5,9,-54.5,15,-51.5,13,-43.5,9,-25.7,11,-14,9,-7,11]],
[1036.625,1036.75,[-75,-3,-73,-5,-70,-9,-67,-5,-64,-3,-63,-1,-59,1,-58,-1,-56,5,-55.5,11,-54,13,-50,11,-47,9,-43,7]],
[1036.75,1036.875,[-75,-3,-71.5,-5,-66,-3,-63,-1,-58,1,-57,-1,-56,3,-55,11,-51,9,-43,7,-27,5,-2,3]],
[1036.875,1037,[-75,-1,-62,1,-58,-1,-55,7,-54,3,-47,1,-44,3,-43,1,-29,-1]],
[1037,1037.125,[-75,-1,-74,1,-73.5,-1,-64,-3,-63,-5,-61,-7,-55,-9,-53,-13,-51,-9,-48,-5,-45,-3,-40,-1,-38,-3,-37.5,-1,-25,-3,-3,-1]],
[1037.125,1037.25,[-75,-1,-70,1,-60,-1,-54,1,-19.5,-1]],
[1037.25,1038,[-75,-1,-68.5,1,-19.5,-1,-8.3,1,-8,-1,-5,1,-4.5,-1]]
];

/* ---------- panel (g) time series, Sv every 5 years ---------- */
const yearStepG = 5;
const gRedStart = 5;
const gRed = [2.15,2.2,2.55,2.45,2.35,2.55,2.4,2.1,2.2,2.3,2.2,2.3,2.4,2.45,2.35,2.45,2.35,2.5,2.7,2.65,2.45,2.5,2.35,2.2,2.35,2.25,2.3,2.45,2.35,2.45,2.5,2.4,2.3,2.2,2.25,2.3,2.35,2.4,2.45,2.55,2.42,2.35,2.4,2.25,2.05,2.0,2.1,2.3,2.62,2.55,2.42,2.45,2.58,2.45,2.3,2.25,2.1,2.2,2.05,1.95,2.3,2.65,2.5,2.35,2.3,2.3,2.45,2.35,2.3,2.15,2.05,2.15,2.15,2.1,2.0,2.15,2.35,2.3,2.3,2.42,2.35,2.25,2.3,2.3,2.3,2.42,2.1,1.92,2.05,2.25,2.35,2.4,2.15,1.98,2.05,2.2,2.25,2.2,2.4];
const gBlackStart = 5;
const gBlack = [2.3,2.25,2.55,2.5,2.25,2.3,2.35,2.5,2.35,2.15,1.95,1.95,2.0,1.8,1.8,1.7,1.5,1.7,1.7,1.65,1.45,1.45,1.4,1.3,1.2,1.3,1.3,1.2,1.13];
const gLimeStart = 60;
const gLime = [2.05,2.0,2.15,2.15,1.95,1.8,1.8,2.15,2.05,2.05,2.05,1.9,1.9,2.05,2.15,2.05,1.9,2.0,1.9,2.0,2.2,2.25,2.05,1.85,1.8,1.85,2.1,2.0,2.0,2.1,2.35,2.3,2.1,2.05,2.2,2.05,2.05,2.2,2.3,2.15,2.05,2.2,2.0,1.9,2.05,2.3,2.2,2.05,2.05,1.95,2.05,2.25,2.0,1.85,2.05,2.15,2.25,2.2,1.95];
const gBlueStart = 75;
const gBlue = [1.85,1.85,1.8,1.75,1.85,1.75,1.9,1.75,1.7,1.65,1.75,1.9,1.95,2.0,2.05,2.15,2.0,2.05,2.1,2.0,1.8,1.65,1.85,2.05,2.0,1.95,1.9,1.85,1.85,2.05,1.95,1.75,1.7,1.75,1.95,1.9,1.85,1.8,1.85,1.65,1.8,1.95,2.15,2.0,1.85,1.65,1.75,1.6,1.55,1.75,1.95,1.7,1.65,1.75,1.88];
const gCyanStart = 85;
const gCyan = [1.75,1.6,1.55,1.5,1.5,1.7,1.9,2.0,1.95,1.8,1.7,1.6,1.6,1.75,1.75,1.65,1.6,1.6,1.6,1.65,1.7,1.65,1.7,1.75,1.8,1.85,1.75,1.65,1.5,1.45,1.6,1.7,1.6,1.55,1.65,1.65,1.55,1.6,1.65,1.75,1.9,1.7,1.6,1.55,1.45,1.45,1.6,1.65,1.65,1.65,1.7,1.6,1.45,1.55,1.7,1.8,1.8,1.65,1.68];
const gMagentaStart = 100;
const gMagenta = [2.0,1.85,1.65,1.55,1.6,1.5,1.55,1.55,1.6,1.5,1.6,1.6,1.7,1.7,1.55,1.5,1.5,1.5,1.45,1.35,1.3,1.4,1.45,1.35,1.3,1.4,1.5,1.4,1.35,1.4,1.3,1.45,1.4,1.35,1.55,1.45,1.35,1.35,1.3,1.25,1.3,1.4,1.35,1.3,1.3,1.45,1.45,1.3,1.2,1.25,1.35,1.2,1.2,1.35,1.3,1.2,1.25,1.3];
const gOrangeStart = 110;
const gOrange = [1.3,1.2,1.4,1.5,1.55,1.55,1.5,1.5,1.45,1.5,1.3,1.45,1.35,1.2,1.2,1.3,1.4,1.35,1.3,1.25,1.35,1.3,1.35,1.3,1.25,1.2,1.25,1.2,1.3,1.25,1.3,1.2,1.25,1.2,1.1,1.15,1.2,1.2,1.2,1.15,1.2,1.25,1.2,1.15,1.1,1.1,1.05,1.1,1.1,1.2,1.15,1.1,1.05,1.0,1.05,0.98,1.05,1.1,1.15];
const gDarkGreenStart = 120;
const gDarkGreen = [1.3,1.15,1.2,1.35,1.4,1.4,1.2,1.2,1.25,1.15,1.25,1.3,1.35,1.4,1.3,1.15,1.1,1.0,1.1,1.3,1.4,1.3,1.2,1.15,1.2,1.05,0.95,1.05,1.1,1.15,1.1,1.0,0.95,1.0,1.05,1.1,1.0,1.05,1.0,1.1,1.05,1.0,0.95,0.95,0.92,0.95,1.0,1.1,1.0,0.95,1.0,1.05,1.0,1.0,1.0,1.05,0.95,0.88,0.95];

/* ---------- panel (h) time series ---------- */
const hRedStart = 5;
const hRed = [2.3,3.2,3.6,4.2,4.6,5.2,3.8,2.4,2.8,3.1,3.6,4.5,5.0,6.0,5.5,4.6,4.4,4.2,4.7,5.2,4.2,3.9,3.7,4.1,4.7,4.8,3.9,3.3,2.6,2.6,3.0,2.6,3.4,3.5,3.3,4.0,4.1,3.6,3.9,5.0,6.2,6.3,4.4,3.3,3.0,2.4,2.4,3.4,4.0,4.9,5.5,4.9,4.5,4.0,3.3,3.1,2.2,2.8,3.5,3.6,4.3,5.1,5.0,4.2,3.5,4.7,5.2,4.9,3.7,3.1,2.7,2.3,2.6,2.8,2.5,2.4,2.1,2.8,3.5,3.8,4.0,4.4,4.5,5.1,6.3,5.4,4.0,2.9,2.6,2.9,3.1,3.6,3.2,2.2,1.8,2.4,3.4,2.5,2.8];
const hBlackStart = 5;
const hBlack = [4.6,4.8,4.7,4.2,3.2,2.8,2.5,2.5,2.4,1.7,1.35,1.5,1.3,0.7,0.55,0.55,0.4,0.2,0.3,0.3,0.3,0.05,0.3,-0.1,-0.6,0.2,0.3,0.1,0.2];
const hLimeStart = 60;
const hLime = [0.6,0.8,1.6,2.0,1.0,1.0,1.3,1.6,1.1,1.0,0.9,1.0,1.1,1.2,1.5,1.2,1.0,1.0,1.0,1.2,1.3,1.7,1.7,1.7,1.85,1.5,1.4,1.0,1.1,1.2,1.3,1.6,1.6,1.2,1.1,1.4,1.1,1.2,1.3,1.1,1.3,1.3,1.1,1.2,1.6,1.7,1.5,1.3,1.3,1.3,1.4,1.5,1.6,1.3,1.1,1.0,1.3,2.1,2.55];
const hBlueStart = 75;
const hBlue = [0.85,1.0,1.3,1.2,1.0,0.8,0.7,0.9,0.6,0.7,0.5,0.7,0.7,0.9,0.8,1.4,1.1,1.1,1.2,1.1,0.9,0.8,0.7,1.1,1.2,1.3,1.0,0.9,1.0,1.4,1.2,0.9,0.8,0.9,0.7,1.0,0.7,0.9,1.1,0.8,0.7,1.1,1.1,1.3,1.1,0.8,0.6,0.7,0.6,0.8,0.8,0.6,0.8,0.9,1.05];
const hCyanStart = 85;
const hCyan = [0.7,0.6,0.5,0.4,0.2,0.1,0.4,1.1,0.8,0.6,0.5,0.4,0.5,0.6,0.5,0.7,0.5,0.4,0.3,0.5,0.6,0.8,0.7,0.6,0.7,0.7,0.6,0.9,0.8,0.6,0.6,0.7,0.5,0.4,0.6,0.6,0.7,0.7,0.6,0.8,0.7,0.6,0.4,0.3,0.1,0.2,0.4,0.5,0.5,0.7,1.0,0.9,0.5,0.6,0.9,1.0,0.9,0.8,0.7];
const hMagentaStart = 100;
const hMagenta = [1.0,0.8,0.7,0.6,0.5,0.4,0.3,0.8,0.5,0.2,0.3,0.2,0.4,0.3,0.3,0.5,0.6,0.7,0.5,0.4,0.3,0.1,0.1,0.3,0.3,0.4,0.3,0.4,0.3,0.4,0.6,0.3,0.1,0.2,0.4,0.3,0.3,0.2,0.1,0.1,-0.1,-0.2,0.1,0.0,0.2,0.3,0.4,0.3,0.6,0.3,0.4,0.5,0.4,0.5,0.4,0.3,0.1,-0.1];
const hOrangeStart = 110;
const hOrange = [0.2,0,0.1,0.8,0.9,0.6,0.2,0.1,0.3,0,0.4,0.5,0.3,0.5,0.7,0.5,0.3,0.4,0.3,0.5,0.4,0.4,0.5,0.5,0.4,0.2,0.4,0.5,0.2,0.1,0.1,0.2,0.3,0.4,0.3,0.3,0.4,0.5,0.3,0.3,0.4,0.6,0.3,0.2,0.5,0.6,0.5,0.2,0,0.2,0.4,0.5,0.4,0.3,0.2,0.1,0.4,0.5,0.4];
const hDarkGreenStart = 120;
const hDarkGreen = [-0.3,-0.5,-0.2,0.2,0.6,0.3,-0.5,-0.2,0.2,0.3,0.2,0.1,0.2,0.2,0.1,-0.4,-0.1,0.1,0.2,0.5,0.7,0.7,0.6,0.5,0.7,0.2,-0.2,0,0.1,0.2,0.6,0.4,0.2,-0.1,-0.4,0.1,0.2,0.3,0.4,0.3,0.3,0.1,0.3,0.2,0.2,0.3,0.4,0.7,0.4,0.2,0.1,0.2,0,0.1,0.7,0.4,0.1,0.2,0.2];

const yearTicks = [0,50,100,150,200,250,300,350,400,450,500];
const yearLabels = [0,100,200,300,400,500];
const gTicks = [0.8,1.0,1.2,1.4,1.6,1.8,2.0,2.2,2.4,2.6,2.8];
const gLabels = [[0.8,'0.8'],[1.2,'1.2'],[1.6,'1.6'],[2.0,'2.0'],[2.4,'2.4'],[2.8,'2.8']];
const hTicks = [-1,0,1,2,3,4,5,6,7];
const hLabels = [[0,'0.'],[2,'2.'],[4,'4.'],[6,'6.']];

/* ---------- drawing ---------- */
const NS = 'http://www.w3.org/2000/svg';
const fig = document.getElementById('figure');
function make(tag, parent, attrs){
  const e = document.createElementNS(NS, tag);
  for (const k in attrs) e.setAttribute(k, attrs[k]);
  parent.appendChild(e);
  return e;
}
function colorOf(v){
  let i = 0;
  while (i < cbarLevels.length && v >= cbarLevels[i]) i++;
  return cbarColors[i];
}
const STROKE = 3.5;
function tickLine(g, x1, y1, x2, y2){
  const t = make('line', g, {x1:x1, y1:y1, x2:x2, y2:y2, stroke:'#000', 'stroke-width':STROKE});
  
  
}
function addText(g, str, x, y, size, anchor, len){
  const t = make('text', g, {x:x, y:y, 'font-size':size, 'text-anchor':anchor});
  if (len) { t.setAttribute('textLength', len); t.setAttribute('lengthAdjust', 'spacingAndGlyphs'); }
  t.textContent = str;
  return t;
}
function drawFrame(g, L, R, T, B, xTicks, X, yTicks, Y, out){
  for (const v of xTicks){
    tickLine(g, X(v), T-19.5, X(v), T);
    tickLine(g, X(v), B, X(v), B+19.5);
  }
  for (const v of yTicks){
    tickLine(g, L-out, Y(v), L, Y(v));
    tickLine(g, R, Y(v), R+out, Y(v));
  }
  const f = make('rect', g, {x:L, y:T, width:R-L, height:B-T, fill:'none', stroke:'#000', 'stroke-width':STROKE});
  
  
}
function drawColorbar(g, x0, x1, top){
  const step = 24.9, base = top + 27.4, end = base + 20*step;
  const cx = (x0+x1)/2;
  const up = make('path', g, {d:`M${x0} ${base}L${cx} ${top}L${x1} ${base}Z`, fill:cbarColors[21], stroke:'#000', 'stroke-width':3.5, 'stroke-linejoin':'round'});
  
  
  const dn = make('path', g, {d:`M${x0} ${end}L${cx} ${end+27.9}L${x1} ${end}Z`, fill:cbarColors[0], stroke:'#000', 'stroke-width':3.5, 'stroke-linejoin':'round'});
  
  
  for (let i = 0; i < 20; i++){
    const c = make('rect', g, {x:x0, y:base+i*step, width:x1-x0, height:step, fill:cbarColors[20-i], stroke:'#000', 'stroke-width':3.5});
    
    
  }
  cbarLabels.forEach((v, i) => {
    const t = addText(g, String(v).replace('-', '−'), x1+67.5, base+i*2*step+11.5, 33, 'end');
    
    
  });
}
function drawHeatPanel(id, rows, L, top, kind, contours, labels){
  const R = L + 684.3, B = top + 553.3;
  const g = make('g', fig, {});
  
  
  const X = lat => R + lat * (684.3/75);
  const Y = kind === 'z' ? d => top + d/6000*553.3 : r => top + (r-1032)/6*553.3;
  const heat = make('g', g, {'shape-rendering':'crispEdges'});
  
  
  for (const row of rows){
    const runs = row[2];
    for (let i = 0; i < runs.length; i += 2){
      const val = runs[i+1];
      if (val === 0) continue;
      const x0 = X(runs[i]);
      const x1 = i+2 < runs.length ? X(runs[i+2]) : R;
      const y0 = Y(row[0]), y1 = Y(row[1]);
      const c = make('rect', heat, {x:x0, y:y0, width:x1-x0+0.5, height:y1-y0+0.5, fill:colorOf(val)});
      
      
    }
  }
  if (contours){
    for (const line of contours){
      let pts = [];
      for (let i = 0; i < line.length; i += 2) pts.push(X(line[i]).toFixed(1)+','+Y(line[i+1]).toFixed(1));
      const p = make('polyline', g, {points:pts.join(' '), fill:'none', stroke:'#000', 'stroke-width':3.8, 'stroke-linejoin':'round', 'clip-path':'url(#clip-'+id+')'});
      
      
    }
    for (const lb of labels){
      const t = make('text', g, {'font-size':22, 'font-weight':'bold', 'text-anchor':'middle', transform:`translate(${X(lb[1]).toFixed(1)} ${(Y(lb[2])+8).toFixed(1)}) rotate(${lb[3]})`});
      t.textContent = lb[0];
      
      
    }
  }
  if (id === 'a'){
    for (const lat of sectionLats){
      const d = make('line', g, {x1:X(lat), y1:top, x2:X(lat), y2:Y(5880), stroke:'#000', 'stroke-width':3, 'stroke-dasharray':'26 11'});
      
      
    }
  }
  const yt = kind === 'z' ? depthTicks : rhoTicks;
  drawFrame(g, L, R, top, B, latTicks, X, yt, Y, kind === 'z' ? 20 : 19);
  const rightEdge = L-37;
  const yl = kind === 'z' ? depthLabels : rhoLabels;
  for (const v of yl){
    const t = addText(g, kind === 'z' ? String(v) : v.toFixed(1), rightEdge, Y(v)+11.5, 33, 'end');
    
    
  }
  for (const lb of latLabels){
    const isEq = lb[0] === 0;
    const t = addText(g, lb[1], X(lb[0]) - (isEq ? 7 : 0), top+604.5, 26, 'middle', isEq ? 24 : 55);
    
    
  }
  const xt = addText(g, 'Latitude', (L+R)/2, top+642.5, 28, 'middle', 111);
  
  
  const yTitle = make('text', g, {'font-size':28, 'text-anchor':'middle', transform:`translate(${kind === 'z' ? L-131 : L-159} ${top+276}) rotate(-90)`, textLength: kind === 'z' ? 157 : 267});
  yTitle.textContent = kind === 'z' ? 'Depth − m' : 'Density − kg m−3';
  
  
  drawColorbar(g, R+32, R+78, top);
}
function drawSeriesPanel(id, L, yMin, yMax, ticks, labels, series){
  const top = 2422.8, B = 2975.5, R = L + 684.4;
  const g = make('g', fig, {});
  
  
  const X = yr => L + yr/500*684.4;
  const Y = v => B - (v-yMin)/(yMax-yMin)*(B-top);
  for (const s of series){
    const pts = s.values.map((v, i) => X(s.start + i*yearStepG).toFixed(1)+','+Y(v).toFixed(1));
    const p = make('polyline', g, {points:pts.join(' '), fill:'none', stroke:s.color, 'stroke-width':7, 'stroke-linejoin':'round'});
    
    
  }
  drawFrame(g, L, R, top, B, yearTicks, X, ticks, Y, 20);
  for (const lb of labels){
    const t = addText(g, lb[1], L-36, Y(lb[0])+11.5, 33, 'end');
    
    
  }
  for (const v of yearLabels){
    const t = addText(g, String(v), X(v), 3027.6, 26, 'middle');
    
    
  }
  const xt = addText(g, 'Model Years', (L+R)/2, 3064.6, 28, 'middle', 171);
  
  
  const yt = make('text', g, {'font-size':32, 'text-anchor':'middle', transform:`translate(${L-141} 2690) rotate(-90)`});
  yt.textContent = 'Sv';
  
  
}
drawHeatPanel('a', rowsA, 184.4, 95.5, 'z', contoursA, contourLabelsA);
drawHeatPanel('b', rowsB, 1219, 95.5, 'rho');
drawHeatPanel('c', rowsC, 184.4, 871.5, 'z', contoursC, contourLabelsC);
drawHeatPanel('d', rowsD, 1219, 871.5, 'rho');
drawHeatPanel('e', rowsE, 184.4, 1647, 'z', contoursE, contourLabelsE);
drawHeatPanel('f', rowsF, 1219, 1647, 'rho');
drawSeriesPanel('g', 184.2, 0.8, 2.8, gTicks, gLabels, [
  {name:'red', color:'#ff0000', start:gRedStart, values:gRed},
  {name:'black', color:'#000000', start:gBlackStart, values:gBlack},
  {name:'lime', color:'#00ff00', start:gLimeStart, values:gLime},
  {name:'blue', color:'#0000ff', start:gBlueStart, values:gBlue},
  {name:'cyan', color:'#00ffff', start:gCyanStart, values:gCyan},
  {name:'magenta', color:'#ff00ff', start:gMagentaStart, values:gMagenta},
  {name:'orange', color:'#ff8c00', start:gOrangeStart, values:gOrange},
  {name:'dark-green', color:'#008800', start:gDarkGreenStart, values:gDarkGreen}
]);
drawSeriesPanel('h', 1219, -1, 7, hTicks, hLabels, [
  {name:'red', color:'#ff0000', start:hRedStart, values:hRed},
  {name:'black', color:'#000000', start:hBlackStart, values:hBlack},
  {name:'lime', color:'#00ff00', start:hLimeStart, values:hLime},
  {name:'blue', color:'#0000ff', start:hBlueStart, values:hBlue},
  {name:'cyan', color:'#00ffff', start:hCyanStart, values:hCyan},
  {name:'magenta', color:'#ff00ff', start:hMagentaStart, values:hMagenta},
  {name:'orange', color:'#ff8c00', start:hOrangeStart, values:hOrange},
  {name:'dark-green', color:'#008800', start:hDarkGreenStart, values:hDarkGreen}
]);
</script>
</body>
</html>
